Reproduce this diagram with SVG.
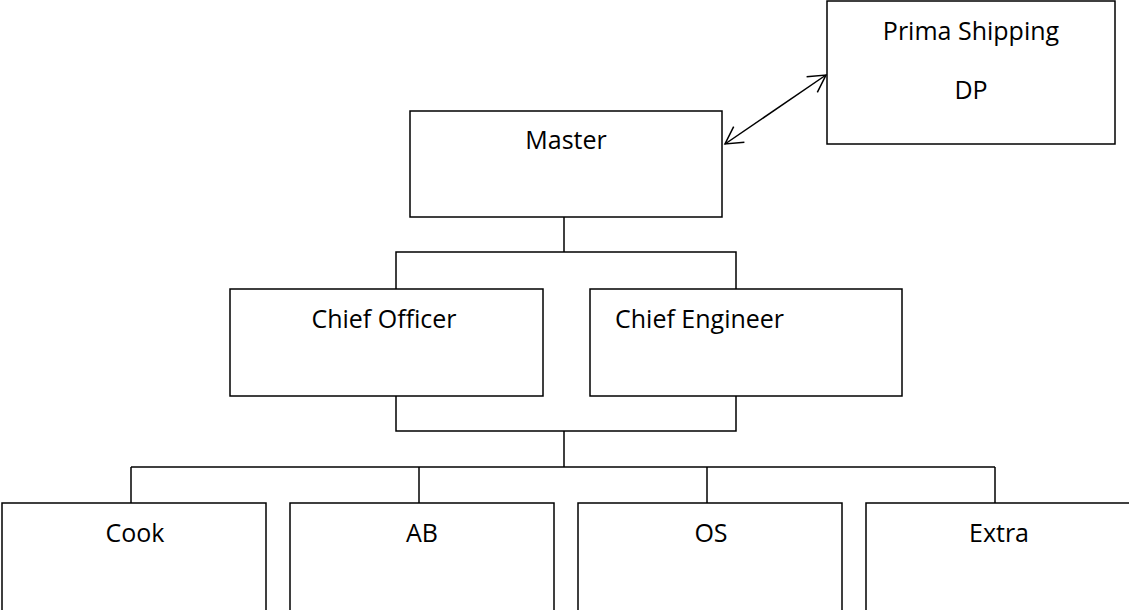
<svg xmlns="http://www.w3.org/2000/svg" width="1129" height="610" viewBox="0 0 1129 610">
<style>
.box{fill:#fff;stroke:#000;stroke-width:1.5}
.lbl{font-family:"Open Sans","Noto Sans",sans-serif;font-size:25px;fill:#000;text-anchor:middle}
.ln{fill:none;stroke:#000;stroke-width:1.5}
</style>
<defs>
<marker id="arr" markerUnits="userSpaceOnUse" viewBox="-20 -12 24 24" markerWidth="24" markerHeight="24" refX="0" refY="0" orient="auto-start-reverse">
<path d="M-17,-9.5 L0,0 L-17,9.5" fill="none" stroke="#000" stroke-width="1.5"/>
</marker>
</defs>
<rect width="1129" height="610" fill="#fff"/>
<g id="connectors">
<line class="ln" x1="725" y1="144" x2="826" y2="75" marker-start="url(#arr)" marker-end="url(#arr)"/>
<polyline class="ln" points="396,289 396,252 736,252 736,289"/>
<line class="ln" x1="564" y1="217" x2="564" y2="252"/>
<polyline class="ln" points="396,396 396,431 736,431 736,396"/>
<line class="ln" x1="564" y1="431" x2="564" y2="467"/>
<line class="ln" x1="131" y1="467" x2="995" y2="467"/>
<line class="ln" x1="131" y1="467" x2="131" y2="503"/>
<line class="ln" x1="419" y1="467" x2="419" y2="503"/>
<line class="ln" x1="707" y1="467" x2="707" y2="503"/>
<line class="ln" x1="995" y1="467" x2="995" y2="503"/>
</g>
<g id="prima">
<rect class="box" x="827" y="1" width="288" height="143"/>
<text class="lbl" x="971" y="40">Prima Shipping</text>
<text class="lbl" x="971" y="99">DP</text>
</g>
<g id="master">
<rect class="box" x="410" y="111" width="312" height="106"/>
<text class="lbl" x="566" y="149">Master</text>
</g>
<g id="chief-officer">
<rect class="box" x="230" y="289" width="313" height="107"/>
<text class="lbl" x="384" y="328">Chief Officer</text>
</g>
<g id="chief-engineer">
<rect class="box" x="590" y="289" width="312" height="107"/>
<text class="lbl" x="615" y="328" style="text-anchor:start">Chief Engineer</text>
</g>
<g id="cook">
<rect class="box" x="2" y="503" width="264" height="115"/>
<text class="lbl" x="135" y="542">Cook</text>
</g>
<g id="ab">
<rect class="box" x="290" y="503" width="264" height="115"/>
<text class="lbl" x="422" y="542">AB</text>
</g>
<g id="os">
<rect class="box" x="578" y="503" width="264" height="115"/>
<text class="lbl" x="711" y="542">OS</text>
</g>
<g id="extra">
<rect class="box" x="866" y="503" width="264" height="115"/>
<text class="lbl" x="999" y="542">Extra</text>
</g>
</svg>
